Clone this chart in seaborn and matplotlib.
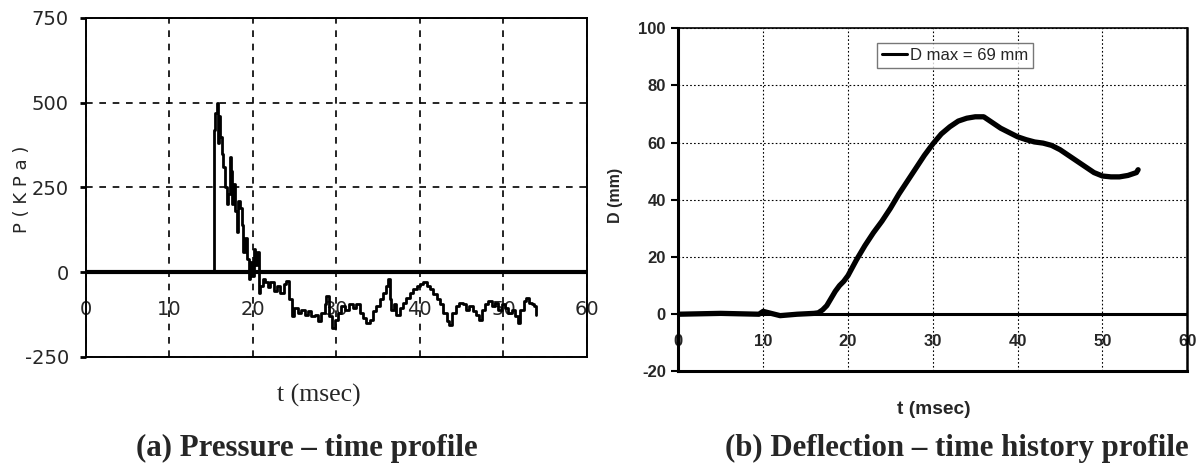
import numpy as np
import pandas as pd
import matplotlib
matplotlib.use('Agg')
import matplotlib.pyplot as plt
import seaborn as sns

# pressure trace, t in msec, P in KPa
t_p = [0, 15.3, 15.35, 15.5, 15.7, 15.8, 15.9, 16.0, 16.1, 16.3, 16.5, 16.7, 16.9, 17.1, 17.3,
       17.4, 17.5, 17.7, 17.9, 18.1, 18.3, 18.5, 18.7, 18.9, 19.1, 19.3, 19.5, 19.7, 19.9, 20.1,
       20.3, 20.5, 20.7, 20.9, 21.2, 21.5, 21.8, 22.1, 22.5, 22.9, 23.3, 23.7, 24.0, 24.3, 24.7,
       25.0, 25.4, 25.8, 26.2, 26.6, 27.0, 27.4, 27.8, 28.2, 28.6, 28.8, 29.1, 29.5, 29.8, 30.2,
       30.6, 31.0, 31.5, 32.0, 32.4, 32.8, 33.2, 33.6, 34.0, 34.4, 34.8, 35.2, 35.6, 36.0, 36.2,
       36.4, 36.6, 36.9, 37.2, 37.6, 38.0, 38.4, 38.8, 39.2, 39.6, 40.0, 40.4, 40.8, 41.2, 41.6,
       42.0, 42.4, 42.8, 43.2, 43.5, 43.9, 44.3, 44.7, 45.1, 45.5, 45.9, 46.3, 46.7, 47.1, 47.4,
       47.8, 48.2, 48.6, 49.0, 49.4, 49.8, 50.2, 50.6, 51.0, 51.4, 51.7, 52.0, 52.4, 52.7, 53.0,
       53.4, 53.7, 53.9]
p_vals = [0, 0, 420, 470, 498, 440, 380, 460, 400, 350, 310, 250, 200, 230, 340,
          300, 200, 260, 180, 120, 210, 190, 140, 60, 100, 40, -20, 30, -10, 70,
          20, 60, -60, -40, -20, -30, -45, -30, -55, -40, -60, -35, -25, -80, -130,
          -105, -120, -110, -125, -115, -130, -125, -145, -120, -95, -70, -130, -165, -140, -120,
          -100, -110, -95, -105, -95, -120, -135, -150, -140, -115, -100, -80, -60, -40, -20,
          -80, -110, -95, -125, -105, -90, -75, -60, -50, -40, -35, -30, -40, -50, -65,
          -80, -95, -120, -145, -155, -120, -100, -90, -95, -110, -100, -115, -125, -140, -110,
          -95, -85, -100, -90, -110, -95, -105, -120, -110, -130, -150, -110, -85, -75, -90,
          -95, -100, -125]

# deflection history, t in msec, D in mm
t_d = [0, 5, 9.5, 10, 12, 14, 16, 16.5, 17, 17.5, 18, 18.5, 19, 19.5, 20, 21, 22, 23, 24, 25,
       26, 27, 28, 29, 30, 31, 32, 33, 34, 35, 36, 37, 38, 39, 40, 41, 42, 43, 44, 45,
       46, 47, 48, 49, 50, 51, 52, 53, 54, 54.2]
d_vals = [0, 0.3, 0, 1, -0.5, 0, 0.3, 0.5, 1.5, 3, 5.5, 8, 10, 11.5, 13.5, 19, 24, 28.5, 32.5, 37,
          42, 46.5, 51, 55.5, 59.5, 63, 65.5, 67.5, 68.5, 69, 69, 67, 65, 63.5, 62, 61, 60.2, 59.8, 59, 57.5,
          55.5, 53.5, 51.5, 49.5, 48.3, 48, 48, 48.5, 49.5, 50.5]

x_ticks = [0, 10, 20, 30, 40, 50, 60]
p_ticks = [-250, 0, 250, 500, 750]
d_ticks = [-20, 0, 20, 40, 60, 80, 100]

df_p = pd.DataFrame({'t': t_p, 'P': p_vals})
df_d = pd.DataFrame({'t': t_d, 'D': d_vals})

sns.set_style('white')
plt.rcParams['font.family'] = ['Liberation Sans', 'DejaVu Sans']

fig = plt.figure(figsize=(12.01, 4.68), dpi=100)
ax1 = fig.add_axes([0.0712, 0.2372, 0.4176, 0.7244])
ax2 = fig.add_axes([0.5648, 0.2063, 0.4238, 0.7337])

# ---- (a) pressure
narrow = dict(family=['Liberation Sans Narrow', 'DejaVu Sans'], size=14)
ax1.axhline(0, color='black', lw=3, zorder=1)
sns.lineplot(data=df_p, x='t', y='P', ax=ax1, color='black', lw=2.0, estimator=None,
             drawstyle='steps-post', zorder=3)
ax1.set_xlim(0, 60)
ax1.set_ylim(-250, 750)
ax1.set_xticks(x_ticks)
ax1.set_yticks(p_ticks)
ax1.set_xticklabels([str(v) for v in x_ticks], fontdict=narrow)
ax1.set_yticklabels([str(v) for v in p_ticks], fontdict=narrow)
ax1.grid(True, color='black', lw=1.2, ls=(0, (4, 4)))
ax1.tick_params(axis='x', length=0, pad=-41)
ax1.tick_params(axis='y', left=True, length=4, width=2, pad=8, color='black')
for s in ax1.spines.values():
    s.set_color('black')
    s.set_linewidth(1.4)
ax1.set_xlabel('t (msec)', family='Liberation Serif', fontsize=18.5)
ax1.xaxis.set_label_coords(0.466, -0.112)
ax1.xaxis.label.set_va('center')
ax1.set_ylabel('P ( K P a )', family=['Liberation Sans Narrow', 'DejaVu Sans'], fontsize=13)
ax1.yaxis.set_label_coords(-0.127, 0.496)
ax1.yaxis.label.set_va('center')

# ---- (b) deflection
bold = dict(family='Liberation Sans', weight='bold', size=12)
ax2.axhline(0, color='black', lw=2.2, zorder=1)
sns.lineplot(data=df_d, x='t', y='D', ax=ax2, color='black', lw=3.8, estimator=None,
             label='D max = 69 mm', zorder=3)
ax2.set_xlim(0, 60)
ax2.set_ylim(-20, 100)
ax2.set_xticks(x_ticks)
ax2.set_yticks(d_ticks)
ax2.set_xticklabels([str(v) for v in x_ticks], fontdict=bold)
ax2.set_yticklabels([str(v) for v in d_ticks], fontdict=bold)
ax2.grid(True, color='black', lw=0.8, ls=(0, (1.5, 2)))
ax2.tick_params(axis='x', length=0, pad=-27)
ax2.tick_params(axis='y', left=True, length=5, width=1.5, pad=4, color='black')
for s in ax2.spines.values():
    s.set_color('black')
    s.set_linewidth(1.2)
ax2.spines['left'].set_linewidth(2.2)
ax2.spines['bottom'].set_linewidth(2.2)
ax2.spines['right'].set_linewidth(1.8)
ax2.set_xlabel('t (msec)', family='Liberation Sans', weight='bold', fontsize=13.8)
ax2.xaxis.set_label_coords(0.501, -0.112)
ax2.xaxis.label.set_va('center')
ax2.set_ylabel('D (mm)', family='Liberation Sans', weight='bold', fontsize=11.5)
ax2.yaxis.set_label_coords(-0.124, 0.512)
ax2.yaxis.label.set_va('center')
leg = ax2.legend(loc='upper left', bbox_to_anchor=(0.39, 0.956), borderaxespad=0,
                 frameon=True, fancybox=False, fontsize=12, handlelength=1.5,
                 handletextpad=0.2, borderpad=0.3)
leg.get_frame().set_edgecolor('#555555')
leg.get_frame().set_linewidth(1.0)
for h in leg.get_lines():
    h.set_linewidth(2.2)

# captions
fig.text(0.2556, 0.0427, '(a) Pressure \u2013 time profile', family='Liberation Serif',
         weight='bold', fontsize=22.2, ha='center', va='center')
fig.text(0.6036, 0.0427, '(b) Deflection \u2013 time history profile', family='Liberation Serif',
         weight='bold', fontsize=22.2, ha='left', va='center')

fig.savefig('out.png', dpi=100)
